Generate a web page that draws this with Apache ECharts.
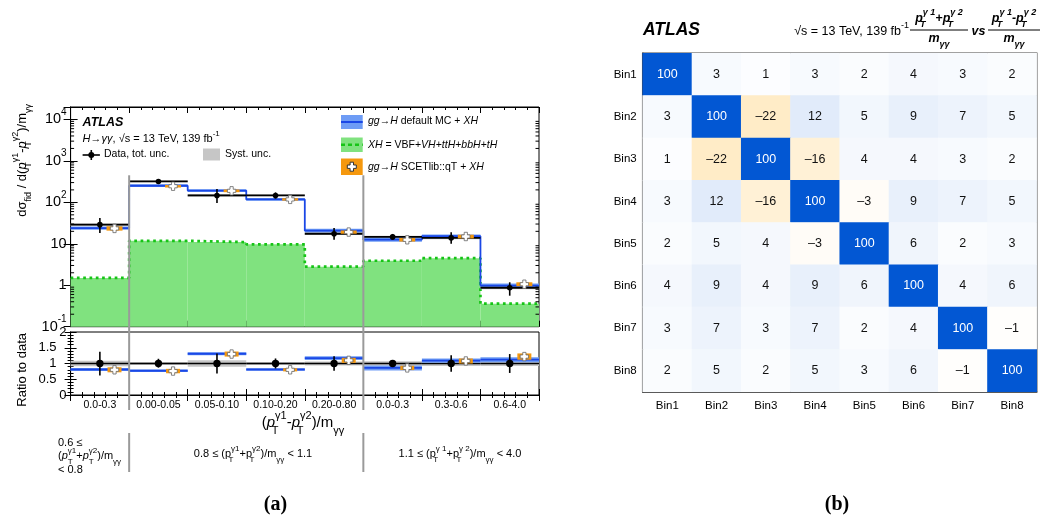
<!DOCTYPE html>
<html>
<head>
<meta charset="utf-8">
<script src="https://cdn.jsdelivr.net/npm/echarts@6.0.0/dist/echarts.min.js"></script>
<style>
html,body{margin:0;padding:0;background:#fff;}
#chart{width:1043px;height:525px;}
</style>
</head>
<body>
<div id="chart"></div>
<script>
const F = "'Liberation Sans', Arial, Helvetica, sans-serif";
const SERIF = "'Liberation Serif', 'DejaVu Serif', serif";

// ---- panel (a) : bins ----
const binLabels = ['0.0-0.3','0.00-0.05','0.05-0.10','0.10-0.20','0.20-0.80','0.0-0.3','0.3-0.6','0.6-4.0'];

// main panel values
const dataVal   = [29, 320, 147, 147, 17.5, 14.7, 13.9, 0.87];
const dataUp    = [42, 365, 210, 174, 24.2, 17.3, 18.9, 1.18];
const dataDn    = [18.3, 285, 97, 123, 12.6, 12.6, 10.1, 0.56];
const dataSysUp = [31, 335, 160, 154, 18.6, 15.6, 15, 0.94];
const dataSysDn = [27, 305, 134, 140, 16.4, 13.8, 12.8, 0.8];
const mcVal = [24, 252, 192, 118, 20.8, 12.6, 15.2, 0.98];
const mcUp  = [26.3, 272, 207, 127, 23, 14.2, 16.8, 1.1];
const mcDn  = [21.9, 234, 178, 110, 18.8, 11.2, 13.7, 0.87];
const scVal = [23.5, 245, 190, 118, 19.2, 12.5, 15, 1.06];
const scUp  = [26.5, 262, 205, 126, 21, 13.8, 16.6, 1.18];
const scDn  = [20.8, 228, 176, 110, 17.5, 11.3, 13.5, 0.95];
const xhVal = [1.5, 11.8, 11.0, 9.7, 2.8, 3.9, 4.5, 0.36];

// ratio panel values
const rDataVal = [1, 1, 1, 1, 1, 1, 1, 1];
const rDataUp  = [1.37, 1.15, 1.32, 1.16, 1.23, 1.1, 1.26, 1.3];
const rDataDn  = [0.62, 0.87, 0.68, 0.84, 0.77, 0.9, 0.74, 0.7];
const rSysUp   = [1.09, 1.05, 1.1, 1.05, 1.06, 1.07, 1.08, 1.08];
const rSysDn   = [0.91, 0.95, 0.9, 0.95, 0.94, 0.93, 0.92, 0.92];
const rMcVal = [0.81, 0.77, 1.31, 0.81, 1.17, 0.86, 1.09, 1.12];
const rMcUp  = [0.86, 0.81, 1.36, 0.85, 1.23, 0.94, 1.16, 1.2];
const rMcDn  = [0.76, 0.73, 1.26, 0.77, 1.11, 0.78, 1.02, 1.04];
const rScVal = [0.8, 0.76, 1.3, 0.8, 1.1, 0.86, 1.08, 1.22];
const rScUp  = [0.88, 0.83, 1.38, 0.85, 1.18, 0.93, 1.16, 1.32];
const rScDn  = [0.72, 0.69, 1.22, 0.75, 1.02, 0.79, 1.0, 1.12];

// bin edges where the (p1+p2)/m ranges change
const sepEdges = [1, 5];

// ---- panel (b) : correlation matrix ----
const binNames = ['Bin1','Bin2','Bin3','Bin4','Bin5','Bin6','Bin7','Bin8'];
const corrRows = [
  [100, 3, 1, 3, 2, 4, 3, 2],
  [3, 100, -22, 12, 5, 9, 7, 5],
  [1, -22, 100, -16, 4, 4, 3, 2],
  [3, 12, -16, 100, -3, 9, 7, 5],
  [2, 5, 4, -3, 100, 6, 2, 3],
  [4, 9, 4, 9, 6, 100, 4, 6],
  [3, 7, 3, 7, 2, 4, 100, -1],
  [2, 5, 2, 5, 3, 6, -1, 100]
];

const GREEN = '#80e27f', GREEN_LINE = '#16c416';
const BLUE = '#1a47e6', BLUE_BAND = '#6e9cf5';
const ORANGE = '#f5980e', GREY = '#c6c6c6';

const idx = binLabels.map((_, i) => i);
const zip = (...arrs) => idx.map(i => [i].concat(arrs.map(a => a[i])));
const stepPts = arr => arr.map((v, i) => [i, v]).concat([[arr.length, arr[arr.length - 1]]]);

// minor ticks of the log axis (2..9 x 10^k)
const logMinor = [];
for (let e = -1; e <= 3; e++) for (let m = 2; m <= 9; m++) logMinor.push([0, m * Math.pow(10, e)]);

function rich(size, o) {
  o = o || {};
  const w = o.bold ? 'bold' : 'normal';
  const st = o.italic ? 'italic' : 'normal';
  const fam = o.family || F;
  const lh = Math.round(size * 1.7);
  const small = Math.round(size * 0.72);
  const base = {fontSize: size, fontFamily: fam, fontWeight: w, fontStyle: st, fill: '#000', color: '#000', lineHeight: lh, verticalAlign: 'middle'};
  const sm = {fontSize: small, fontFamily: fam, fontWeight: w, fontStyle: st, fill: '#000', color: '#000', lineHeight: Math.round(size * 0.75)};
  return {
    n: base,
    i: Object.assign({}, base, {fontStyle: 'italic'}),
    sup: Object.assign({}, sm, {verticalAlign: 'top'}),
    sub: Object.assign({}, sm, {verticalAlign: 'bottom'}),
    subz: Object.assign({}, sm, {verticalAlign: 'bottom', width: 0})
  };
}

function txt(x, y, text, size, o) {
  o = o || {};
  return {
    type: 'text', x: x, y: y, rotation: o.rot || 0, z: 100, silent: true,
    style: {
      text: text, rich: rich(size, o), fontSize: size, fontFamily: o.family || F,
      fontWeight: o.bold ? 'bold' : 'normal', fontStyle: o.italic ? 'italic' : 'normal',
      fill: '#000', align: o.align || 'left', verticalAlign: 'middle'
    }
  };
}

function logLabel(v) {
  const e = Math.round(Math.log10(v));
  if (Math.abs(v / Math.pow(10, e) - 1) > 1e-6) return '';
  if (e === 0) return '{n|1}';
  if (e === 1) return '{n|10}';
  return '{n|10}{sup|' + e + '}';
}

function vAxis(g, pos) {
  return {
    type: 'value', gridIndex: g, position: pos, min: 0, max: 8, interval: 1,
    axisLine: {show: true, lineStyle: {color: '#000'}},
    axisTick: {show: true, inside: true, length: 6, lineStyle: {color: '#000'}},
    minorTick: {show: true, splitNumber: 5, length: 3, lineStyle: {color: '#000'}},
    axisLabel: {show: false}, splitLine: {show: false}
  };
}

// renderers
const bandItem = color => (p, api) => {
  const i = api.value(0);
  const a = api.coord([i, api.value(2)]), b = api.coord([i + 1, api.value(1)]);
  return {type: 'rect', shape: {x: a[0], y: a[1], width: b[0] - a[0], height: b[1] - a[1]}, style: {fill: color}};
};
const hlineItem = (color, w) => (p, api) => {
  const i = api.value(0);
  const a = api.coord([i, api.value(1)]), b = api.coord([i + 1, api.value(1)]);
  return {type: 'line', shape: {x1: a[0], y1: a[1], x2: b[0], y2: a[1]}, style: {stroke: color, lineWidth: w}};
};
const pointItem = r => (p, api) => {
  const x = api.value(0) + 0.5;
  const c = api.coord([x, api.value(1)]), hi = api.coord([x, api.value(2)]), lo = api.coord([x, api.value(3)]);
  return {type: 'group', children: [
    {type: 'line', shape: {x1: c[0], y1: hi[1], x2: c[0], y2: lo[1]}, style: {stroke: '#000', lineWidth: 1.6}},
    {type: 'circle', shape: {cx: c[0], cy: c[1], r: r}, style: {fill: '#000'}}
  ]};
};
function crossPts(cx, cy, a, t) {
  return [[cx-t,cy-a],[cx+t,cy-a],[cx+t,cy-t],[cx+a,cy-t],[cx+a,cy+t],[cx+t,cy+t],
          [cx+t,cy+a],[cx-t,cy+a],[cx-t,cy+t],[cx-a,cy+t],[cx-a,cy-t],[cx-t,cy-t]];
}
const scItem = bw => (p, api) => {
  const x = api.value(0) + 0.75;
  const c = api.coord([x, api.value(1)]), hi = api.coord([x, api.value(2)]), lo = api.coord([x, api.value(3)]);
  return {type: 'group', children: [
    {type: 'rect', shape: {x: c[0] - bw / 2, y: hi[1], width: bw, height: lo[1] - hi[1]}, style: {fill: ORANGE}},
    {type: 'polygon', shape: {points: crossPts(c[0], c[1], 4.2, 1.6)}, style: {fill: '#fff', stroke: '#666', lineWidth: 0.8}}
  ]};
};
const fillItem = (p, api) => {
  const i = api.value(0);
  const a = api.coord([i, 0.1]), b = api.coord([i + 1, api.value(1)]);
  return {type: 'rect', shape: {x: a[0], y: b[1], width: b[0] - a[0], height: a[1] - b[1]}, style: {fill: GREEN}};
};
const minorItem = (p, api) => {
  const a = api.coord([0, api.value(1)]), b = api.coord([8, api.value(1)]);
  return {type: 'group', children: [
    {type: 'line', shape: {x1: a[0], y1: a[1], x2: a[0] + 3.5, y2: a[1]}, style: {stroke: '#000', lineWidth: 1}},
    {type: 'line', shape: {x1: b[0] - 3.5, y1: b[1], x2: b[0], y2: b[1]}, style: {stroke: '#000', lineWidth: 1}}
  ]};
};
const sepItem = (p, api) => {
  const top = api.coord([api.value(0), 450]);
  const x = top[0];
  return {type: 'group', children: [
    {type: 'line', shape: {x1: x, y1: top[1], x2: x, y2: 410}, style: {stroke: '#9a9a9a', lineWidth: 2}},
    {type: 'line', shape: {x1: x, y1: 433, x2: x, y2: 472}, style: {stroke: '#9a9a9a', lineWidth: 2}}
  ]};
};

function cs(xi, yi, data, render, z) {
  return {type: 'custom', xAxisIndex: xi, yAxisIndex: yi, data: data, renderItem: render, z: z, silent: true, clip: false};
}

const heatData = [];
corrRows.forEach((row, r) => row.forEach((v, c) => {
  heatData.push({value: [c, r, v], label: {color: v >= 60 ? '#fff' : '#111'}});
}));

const pT1 = '{i|p}{subz|T}{sup|γ1}';
const pT2 = '{i|p}{subz|T}{sup|γ2}';
const pU1 = '{n|p}{subz|T}{sup|γ1}';
const pU2 = '{n|p}{subz|T}{sup|γ2}';
const pW1 = '{n|p}{subz|T}{sup|γ 1}';
const pW2 = '{n|p}{subz|T}{sup|γ 2}';
const pB1 = '{i|p}{subz|T}{sup|γ 1}';
const pB2 = '{i|p}{subz|T}{sup|γ 2}';

const graphics = [
  // y axis titles
  txt(22, 104, '{n|dσ}{sub|fid}{n| / d(}' + pT1 + '{n|-}' + pT2 + '{n|)/m}{sub|γγ}', 13, {rot: Math.PI / 2, align: 'right'}),
  txt(22, 333, '{n|Ratio to data}', 13, {rot: Math.PI / 2, align: 'right'}),
  // x axis title
  txt(303, 423, '{n|(}' + pT1 + '{n|-}' + pT2 + '{n|)/m}{sub|γγ}', 15, {align: 'center'}),
  // region labels below
  txt(58, 443, '{n|0.6 ≤}', 11),
  txt(58, 456, '{n|(}' + pT1 + '{n|+}' + pT2 + '{n|)/m}{sub|γγ}', 11),
  txt(58, 470, '{n|< 0.8}', 11),
  txt(253, 454, '{n|0.8 ≤ (}' + pU1 + '{n|+}' + pU2 + '{n|)/m}{sub|γγ}{n| < 1.1}', 11, {align: 'center'}),
  txt(460, 454, '{n|1.1 ≤ (}' + pW1 + '{n|+}' + pW2 + '{n|)/m}{sub|γγ}{n| < 4.0}', 11, {align: 'center'}),
  // in-plot labels
  txt(82.6, 123, '{n|ATLAS}', 12.5, {bold: true, italic: true}),
  txt(82.6, 139, '{i|H}{n|→}{i|γγ}{n|, √s = 13 TeV, 139 fb}{sup|-1}', 11),
  {type: 'line', z: 100, shape: {x1: 82.6, y1: 155, x2: 99.9, y2: 155}, style: {stroke: '#000', lineWidth: 1.6}},
  {type: 'line', z: 100, shape: {x1: 91.3, y1: 150, x2: 91.3, y2: 160}, style: {stroke: '#000', lineWidth: 1.6}},
  {type: 'circle', z: 100, shape: {cx: 91.3, cy: 155, r: 3}, style: {fill: '#000'}},
  txt(104, 154.5, '{n|Data, tot. unc.}', 10.5),
  {type: 'rect', z: 100, shape: {x: 203, y: 148.5, width: 17, height: 12}, style: {fill: GREY}},
  txt(225, 154.5, '{n|Syst. unc.}', 10.5),
  {type: 'rect', z: 100, shape: {x: 341, y: 115, width: 21.7, height: 14}, style: {fill: BLUE_BAND}},
  {type: 'line', z: 100, shape: {x1: 341, y1: 122, x2: 362.7, y2: 122}, style: {stroke: BLUE, lineWidth: 2}},
  txt(368, 121.5, '{i|gg}{n|→}{i|H}{n| default MC + }{i|XH}', 10.5),
  {type: 'rect', z: 100, shape: {x: 341, y: 137.5, width: 21.7, height: 14.5}, style: {fill: GREEN}},
  {type: 'line', z: 100, shape: {x1: 341, y1: 144.7, x2: 362.7, y2: 144.7}, style: {stroke: GREEN_LINE, lineWidth: 2.5, lineDash: [4, 3]}},
  txt(368, 145, '{i|XH}{n| = VBF+}{i|VH}{n|+}{i|ttH}{n|+}{i|bbH}{n|+}{i|tH}', 10.5),
  {type: 'rect', z: 100, shape: {x: 341, y: 158.5, width: 21.7, height: 16.5}, style: {fill: ORANGE}},
  {type: 'polygon', z: 101, shape: {points: crossPts(351.8, 166.7, 4.5, 1.7)}, style: {fill: '#fff', stroke: '#333', lineWidth: 1}},
  txt(368, 167, '{i|gg}{n|→}{i|H}{n| SCETlib::qT + }{i|XH}', 10.5),
  // panel (b) header
  txt(643, 30, '{n|ATLAS}', 17.5, {bold: true, italic: true}),
  txt(909, 32, '{n|√s = 13 TeV, 139 fb}{sup|-1}', 12.5, {align: 'right'}),
  txt(939, 19, pB1 + '{i|+}' + pB2, 12.5, {bold: true, italic: true, align: 'center'}),
  {type: 'line', z: 100, shape: {x1: 910, y1: 30, x2: 968, y2: 30}, style: {stroke: '#000', lineWidth: 1}},
  txt(939, 39, '{i|m}{sub|γγ}', 12.5, {bold: true, italic: true, align: 'center'}),
  txt(978.5, 32, '{i|vs}', 12.5, {bold: true, italic: true, align: 'center'}),
  txt(1014, 19, pB1 + '{i|-}' + pB2, 12.5, {bold: true, italic: true, align: 'center'}),
  {type: 'line', z: 100, shape: {x1: 988, y1: 30, x2: 1040, y2: 30}, style: {stroke: '#000', lineWidth: 1}},
  txt(1014, 39, '{i|m}{sub|γγ}', 12.5, {bold: true, italic: true, align: 'center'}),
  // panel letters
  txt(275.5, 505, '{n|(a)}', 20, {bold: true, align: 'center', family: SERIF}),
  txt(837, 505, '{n|(b)}', 20, {bold: true, align: 'center', family: SERIF})
];

const option = {
  animation: false,
  textStyle: {fontFamily: F},
  grid: [
    {left: 70.6, top: 107, width: 468.4, height: 219.7, show: true, borderColor: '#000', borderWidth: 1},
    {left: 70.6, top: 332, width: 468.4, height: 63, show: true, borderColor: '#000', borderWidth: 1},
    {left: 642.7, top: 53.3, width: 394, height: 338.4, show: true, borderColor: '#444', borderWidth: 1.5}
  ],
  xAxis: [
    vAxis(0, 'bottom'), vAxis(0, 'top'), vAxis(1, 'bottom'), vAxis(1, 'top'),
    {type: 'category', gridIndex: 1, position: 'bottom', data: binLabels,
      axisLine: {show: false}, axisTick: {show: false},
      axisLabel: {fontSize: 10.5, color: '#000', margin: 5, interval: 0}},
    {type: 'category', gridIndex: 2, position: 'bottom', data: binNames,
      axisLine: {lineStyle: {color: '#444', width: 1.5}}, axisTick: {length: 3, lineStyle: {color: '#444'}},
      axisLabel: {fontSize: 11.5, color: '#000', margin: 8}, splitLine: {show: false}}
  ],
  yAxis: [
    {type: 'log', gridIndex: 0, position: 'left', min: 0.1, max: 20000, logBase: 10,
      axisLine: {show: true, lineStyle: {color: '#000'}},
      axisTick: {show: true, inside: true, length: 7, lineStyle: {color: '#000'}},
      axisLabel: {formatter: logLabel, rich: rich(14.5), margin: 4, showMaxLabel: false}, splitLine: {show: false}},
    {type: 'log', gridIndex: 0, position: 'right', min: 0.1, max: 20000, logBase: 10,
      axisLine: {show: true, lineStyle: {color: '#000'}},
      axisTick: {show: true, inside: true, length: 7, lineStyle: {color: '#000'}},
      axisLabel: {show: false}, splitLine: {show: false}},
    {type: 'value', gridIndex: 1, position: 'left', min: 0, max: 2, interval: 0.5,
      axisLine: {show: true, lineStyle: {color: '#000'}},
      axisTick: {show: true, inside: true, length: 6, lineStyle: {color: '#000'}},
      minorTick: {show: true, splitNumber: 5, length: 3, lineStyle: {color: '#000'}},
      axisLabel: {margin: 4, formatter: v => (v === 0 || v === 2) ? '{e|' + v + '}' : '{m|' + v + '}',
        rich: {e: {fontSize: 13, color: '#000', fontFamily: F}, m: {fontSize: 13, color: '#000', fontFamily: F, padding: [0, 10, 0, 0]}}},
      splitLine: {show: false}},
    {type: 'value', gridIndex: 1, position: 'right', min: 0, max: 2, interval: 0.5,
      axisLine: {show: true, lineStyle: {color: '#000'}},
      axisTick: {show: true, inside: true, length: 6, lineStyle: {color: '#000'}},
      minorTick: {show: true, splitNumber: 5, length: 3, lineStyle: {color: '#000'}},
      axisLabel: {show: false}, splitLine: {show: false}},
    {type: 'category', gridIndex: 2, position: 'left', data: binNames, inverse: true,
      axisLine: {lineStyle: {color: '#444', width: 1.5}}, axisTick: {length: 3, lineStyle: {color: '#444'}},
      axisLabel: {fontSize: 11.5, color: '#000', margin: 6}, splitLine: {show: false}}
  ],
  visualMap: {show: false, type: 'continuous', min: -100, max: 100, dimension: 2, seriesIndex: 0,
    inRange: {color: ['#ffaa00', '#ffffff', '#0257d3']}},
  series: [
    {type: 'heatmap', xAxisIndex: 5, yAxisIndex: 4, data: heatData,
      label: {show: true, fontSize: 12.5, fontFamily: F,
        formatter: p => p.value[2] < 0 ? '\u2013' + Math.abs(p.value[2]) : String(p.value[2])},
      itemStyle: {borderWidth: 0}, emphasis: {disabled: true}},
    // main panel
    cs(0, 0, zip(xhVal), fillItem, 1),
    {type: 'line', xAxisIndex: 0, yAxisIndex: 0, data: stepPts(xhVal), step: 'end', symbol: 'none', z: 2,
      lineStyle: {color: GREEN_LINE, width: 2.7, type: [2.7, 3.6]}, silent: true},
    cs(0, 0, zip(dataSysDn, dataSysUp), bandItem(GREY), 3),
    cs(0, 0, zip(mcDn, mcUp), bandItem(BLUE_BAND), 4),
    {type: 'line', xAxisIndex: 0, yAxisIndex: 0, data: stepPts(mcVal), step: 'end', symbol: 'none', z: 5,
      lineStyle: {color: BLUE, width: 1.8}, silent: true},
    cs(0, 0, zip(dataVal), hlineItem('#000', 1.8), 6),
    cs(0, 0, zip(dataVal, dataUp, dataDn), pointItem(2.8), 7),
    cs(0, 0, zip(scVal, scUp, scDn), scItem(16), 8),
    cs(0, 0, logMinor, minorItem, 9),
    cs(0, 0, sepEdges.map(e => [e, 1]), sepItem, 20),
    // ratio panel
    cs(2, 2, zip(rSysDn, rSysUp), bandItem(GREY), 3),
    cs(2, 2, zip(rDataVal), hlineItem('#000', 1.5), 4),
    cs(2, 2, zip(rMcDn, rMcUp), bandItem(BLUE_BAND), 5),
    cs(2, 2, zip(rMcVal), hlineItem(BLUE, 1.8), 6),
    cs(2, 2, zip(rDataVal, rDataUp, rDataDn), pointItem(3.7), 7),
    cs(2, 2, zip(rScVal, rScUp, rScDn), scItem(14), 8)
  ],
  graphic: graphics
};

const chart = echarts.init(document.getElementById('chart'));
chart.setOption(option);
</script>
</body>
</html>
